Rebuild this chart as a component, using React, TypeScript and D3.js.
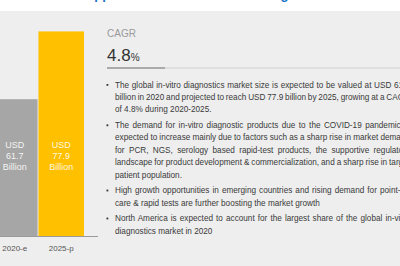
import React, { useEffect, useRef } from 'react';
import * as d3 from 'd3';

const categories = ['2020-e', '2025-p'];
const values = [61.7, 77.9];
const barColors = ['#a6a6a6', '#ffc000'];
const valueLabels = [
  ['USD', '61.7', 'Billion'],
  ['USD', '77.9', 'Billion'],
];
const title = 'Attractive Opportunities in the In-Vitro Diagnostics Market';
const cagrLabel = 'CAGR';
const cagrValue = '4.8';
const cagrUnit = '%';
const bullets: string[][] = [
  [
    'The global in-vitro diagnostics market size is expected to be valued at USD 61.7',
    'billion in 2020 and projected to reach USD 77.9 billion by 2025, growing at a CAGR',
    'of 4.8% during 2020-2025.',
  ],
  [
    'The demand for in-vitro diagnostic products due to the COVID-19 pandemic is',
    'expected to increase mainly due to factors such as a sharp rise in market demand',
    'for PCR, NGS, serology based rapid-test products, the supportive regulatory',
    'landscape for product development & commercialization, and a sharp rise in target',
    'patient population.',
  ],
  [
    'High growth opportunities in emerging countries and rising demand for point-of-',
    'care & rapid tests are further boosting the market growth',
  ],
  [
    'North America is expected to account for the largest share of the global in-vitro',
    'diagnostics market in 2020',
  ],
];

const W = 400;
const H = 266;

export default function App() {
  const ref = useRef<SVGSVGElement | null>(null);

  useEffect(() => {
    document.body.style.margin = '0';
    const svg = d3.select(ref.current);
    svg.selectAll('*').remove();

    // background
    svg.append('rect').attr('x', 0).attr('y', 0).attr('width', W).attr('height', H).attr('fill', '#ffffff');

    // title (mostly cut off at top)
    svg
      .append('text')
      .attr('x', 200)
      .attr('y', -1)
      .attr('text-anchor', 'middle')
      .attr('font-family', 'Liberation Sans, Arial, sans-serif')
      .attr('font-weight', 'bold')
      .attr('font-size', 13)
      .attr('fill', '#1b73c9')
      .text(title);

    svg.append('rect').attr('x', 0).attr('y', 11).attr('width', W).attr('height', H - 11).attr('fill', '#eeeeee');

    // bars
    const x = d3.scaleBand<string>().domain(categories).range([-8, 84]).paddingInner(0.02).paddingOuter(0);
    const y = d3.scaleLinear().domain([29, 78]).range([236, 31]);

    const g = svg.append('g');
    g.selectAll('rect.bar')
      .data(values)
      .join('rect')
      .attr('class', 'bar')
      .attr('x', (_, i) => x(categories[i]) as number)
      .attr('y', (d) => y(d))
      .attr('width', x.bandwidth())
      .attr('height', (d) => y.range()[0] - y(d))
      .attr('fill', (_, i) => barColors[i]);

    // axis line
    g.append('line')
      .attr('x1', 0)
      .attr('x2', 98)
      .attr('y1', 236.5)
      .attr('y2', 236.5)
      .attr('stroke', '#9a9a9a')
      .attr('stroke-width', 1);

    // category labels
    g.selectAll('text.cat')
      .data(categories)
      .join('text')
      .attr('class', 'cat')
      .attr('x', (d) => (x(d) as number) + x.bandwidth() / 2)
      .attr('y', 251)
      .attr('text-anchor', 'middle')
      .attr('font-family', 'Liberation Sans, Arial, sans-serif')
      .attr('font-size', 8)
      .attr('fill', '#555')
      .text((d) => d);

    // value labels
    valueLabels.forEach((lines, i) => {
      const cx = (x(categories[i]) as number) + x.bandwidth() / 2;
      lines.forEach((t, j) => {
        g.append('text')
          .attr('x', cx)
          .attr('y', 148 + j * 11)
          .attr('text-anchor', 'middle')
          .attr('font-family', 'Liberation Sans, Arial, sans-serif')
          .attr('font-size', 9)
          .attr('fill', '#ffffff')
          .attr('fill-opacity', 0.9)
          .text(t);
      });
    });

    // CAGR
    svg
      .append('text')
      .attr('x', 107)
      .attr('y', 37)
      .attr('font-family', 'Liberation Sans, Arial, sans-serif')
      .attr('font-size', 10)
      .attr('fill', '#9a9a9a')
      .text(cagrLabel);
    const cv = svg
      .append('text')
      .attr('x', 107)
      .attr('y', 60.5)
      .attr('font-family', 'Liberation Sans, Arial, sans-serif')
      .attr('fill', '#333');
    cv.append('tspan').attr('font-size', 17).text(cagrValue);
    cv.append('tspan').attr('font-size', 10).text(cagrUnit);

    svg.append('line').attr('x1', 107).attr('x2', 400).attr('y1', 68).attr('y2', 68).attr('stroke', '#cfcfcf').attr('stroke-width', 1);
    svg.append('line').attr('x1', 107).attr('x2', 165).attr('y1', 68).attr('y2', 68).attr('stroke', '#aaaaaa').attr('stroke-width', 2);

    // bullets
    const lineH = 12.4;
    const gap = 15.6;
    const textX = 115;
    const rightX = 410;
    let yy = 87.5;
    bullets.forEach((para, pi) => {
      if (pi > 0) yy += gap - lineH;
      svg
        .append('rect')
        .attr('x', 106.5)
        .attr('y', yy - 3.5)
        .attr('width', 1.8)
        .attr('height', 1.8)
        .attr('fill', '#333');
      para.forEach((line, li) => {
        const t = svg
          .append('text')
          .attr('x', textX)
          .attr('y', yy)
          .attr('font-family', 'Liberation Sans, Arial, sans-serif')
          .attr('font-size', 8.2)
          .attr('fill', '#3a3a3a')
          .text(line);
        if (li < para.length - 1) {
          const node = t.node() as SVGTextElement;
          const len = node.getComputedTextLength();
          const spaces = (line.match(/ /g) || []).length;
          if (spaces > 0) t.attr('word-spacing', (rightX - textX - len) / spaces);
        }
        yy += lineH;
      });
    });
  }, []);

  return <svg ref={ref} width={W} height={H} style={{ display: 'block', position: 'absolute', left: 0, top: 0 }} />;
}
